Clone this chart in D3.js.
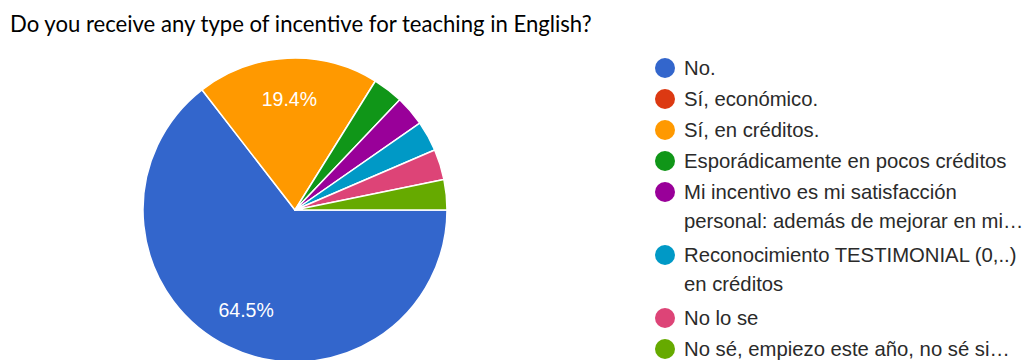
<!DOCTYPE html>
<html>
<head>
<meta charset="utf-8">
<script src="https://cdn.jsdelivr.net/npm/d3@7"></script>
<style>
  html, body { margin: 0; padding: 0; background: #fff; }
  svg { display: block; }
</style>
</head>
<body>
<div id="chart"></div>
<script>
const title = "Do you receive any type of incentive for teaching in English?";

const categories = [
    "No.",
    "Sí, económico.",
    "Sí, en créditos.",
    "Esporádicamente en pocos créditos",
    "Mi incentivo es mi satisfacción personal: además de mejorar en mi…",
    "Reconocimiento TESTIMONIAL (0,..) en créditos",
    "No lo se",
    "No sé, empiezo este año, no sé si…"
];

// legend text as it wraps in the picture
const legendLines = [
    ["No."],
    ["Sí, económico."],
    ["Sí, en créditos."],
    ["Esporádicamente en pocos créditos"],
    ["Mi incentivo es mi satisfacción", "personal: además de mejorar en mi…"],
    ["Reconocimiento TESTIMONIAL (0,..)", "en créditos"],
    ["No lo se"],
    ["No sé, empiezo este año, no sé si…"]
];

// responses (31 in total)
const counts = [20, 0, 6, 1, 1, 1, 1, 1];

const colors = ["#3366cc", "#dc3912", "#ff9900", "#109618", "#990099", "#0099c6", "#dd4477", "#66aa00"];

(function() {
    const width = 1026;
    const height = 360;
    const cx = 295, cy = 210, radius = 152;

    const svg = d3.select("#chart")
        .append("svg")
        .attr("width", width)
        .attr("height", height);

    // title, sized to the width it has in the picture
    const titleText = svg.append("text")
        .attr("x", 10)
        .attr("y", 32)
        .style("font-family", "Lato, 'Open Sans', sans-serif")
        .style("font-size", "20px")
        .style("fill", "#000")
        .text(title);
    const tw = titleText.node().getComputedTextLength();
    titleText.style("font-size", (20 * 582 / tw) + "px");

    const total = d3.sum(counts);
    const color = d3.scaleOrdinal().domain(categories).range(colors);

    const pie = d3.pie()
        .sort(null)
        .value(d => d.value)
        .startAngle(Math.PI / 2)
        .endAngle(Math.PI / 2 + 2 * Math.PI);

    const arcs = pie(categories.map((c, i) => ({ name: c, value: counts[i] })));

    const arc = d3.arc().innerRadius(0).outerRadius(radius);
    const labelArc = d3.arc().innerRadius(radius * 0.73).outerRadius(radius * 0.73);

    const g = svg.append("g").attr("transform", `translate(${cx},${cy})`);

    g.selectAll("path")
        .data(arcs.filter(d => d.value > 0))
        .enter().append("path")
        .attr("d", arc)
        .attr("fill", d => color(d.data.name))
        .attr("stroke", "#fff")
        .attr("stroke-width", 1.5)
        .attr("stroke-linejoin", "round");

    g.selectAll("text.pct")
        .data(arcs.filter(d => d.value / total > 0.05))
        .enter().append("text")
        .attr("class", "pct")
        .attr("transform", d => `translate(${labelArc.centroid(d)})`)
        .attr("text-anchor", "middle")
        .attr("dy", "0.36em")
        .style("font-family", "'Liberation Sans', Arial, sans-serif")
        .style("font-size", "19.5px")
        .style("fill", "#fff")
        .text(d => (d.value / total * 100).toFixed(1) + "%");

    // legend
    const legendX = 665, textX = 684;
    const rowGap = 31, lineGap = 29;
    let y = 68;
    const legend = svg.append("g");
    categories.forEach((c, i) => {
        const item = legend.append("g");
        item.append("circle")
            .attr("cx", legendX)
            .attr("cy", y)
            .attr("r", 10)
            .attr("fill", color(c));
        legendLines[i].forEach((line, j) => {
            item.append("text")
                .attr("x", textX)
                .attr("y", y + j * lineGap)
                .attr("dy", "0.36em")
                .style("font-family", "'Liberation Sans', Arial, sans-serif")
                .style("font-size", "20.3px")
                .style("fill", "#2a2a2a")
                .text(line);
        });
        y += rowGap + (legendLines[i].length - 1) * (lineGap + 3);
    });
})();
</script>
</body>
</html>
